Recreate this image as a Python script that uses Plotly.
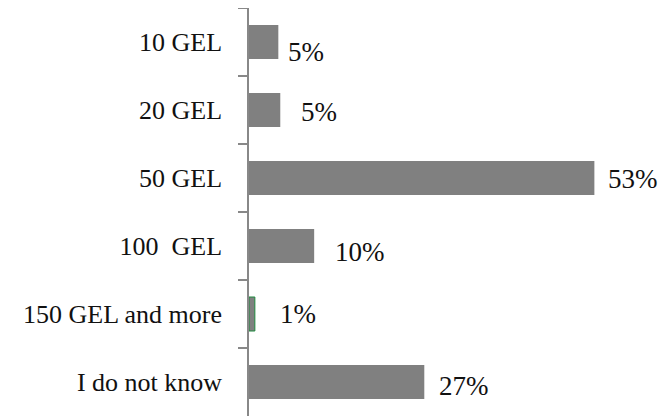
import plotly.graph_objects as go

categories = ["10 GEL", "20 GEL", "50 GEL", "100\u00a0 GEL", "150 GEL and more", "I do not know"]
values = [4.5, 4.8, 53.0, 10.0, 0.9, 26.9]
value_labels = ["5%", "5%", "53%", "10%", "1%", "27%"]

# label offsets (styling): pixels right of bar end, pixels down from bar centre
label_dx = [8, 19, 12, 19, 23, 13]
label_dy = [9.5, 1.5, 1, 5.5, -0.5, 4]

outline_colors = ["rgba(0,0,0,0)"] * 4 + ["#1f8a3f"] + ["rgba(0,0,0,0)"]
outline_widths = [0, 0, 0, 0, 1, 0]

FONT = "Liberation Serif"

fig = go.Figure(
    go.Bar(
        x=values,
        y=categories,
        orientation="h",
        marker=dict(color="#808080", line=dict(color=outline_colors, width=outline_widths)),
        hoverinfo="skip",
    )
)

for cat, v, lab, dx, dy in zip(categories, values, value_labels, label_dx, label_dy):
    fig.add_annotation(
        x=v, y=cat, text=lab, showarrow=False,
        xanchor="left", yanchor="middle",
        xshift=dx, yshift=-dy,
        font=dict(family=FONT, size=27, color="#111111"),
    )

# the page places the figure 8px in from the window's top-left corner
fig.update_layout(
    width=666, height=416,
    margin=dict(l=241, r=34, t=0, b=8),
    plot_bgcolor="white", paper_bgcolor="white",
    bargap=0.5,
    showlegend=False,
    font=dict(family=FONT, size=26, color="#111111"),
)
fig.update_xaxes(range=[0, 60], visible=False, fixedrange=True)
fig.update_yaxes(
    categoryorder="array", categoryarray=categories, autorange="reversed",
    showline=True, linecolor="#888888", linewidth=1.5,
    ticks="outside", tickson="boundaries", ticklen=9, tickcolor="#888888", tickwidth=1.5,
    ticklabelstandoff=20,
    showgrid=False, zeroline=False, fixedrange=True,
    tickfont=dict(family=FONT, size=26, color="#111111"),
)

fig.write_html("out.html")
